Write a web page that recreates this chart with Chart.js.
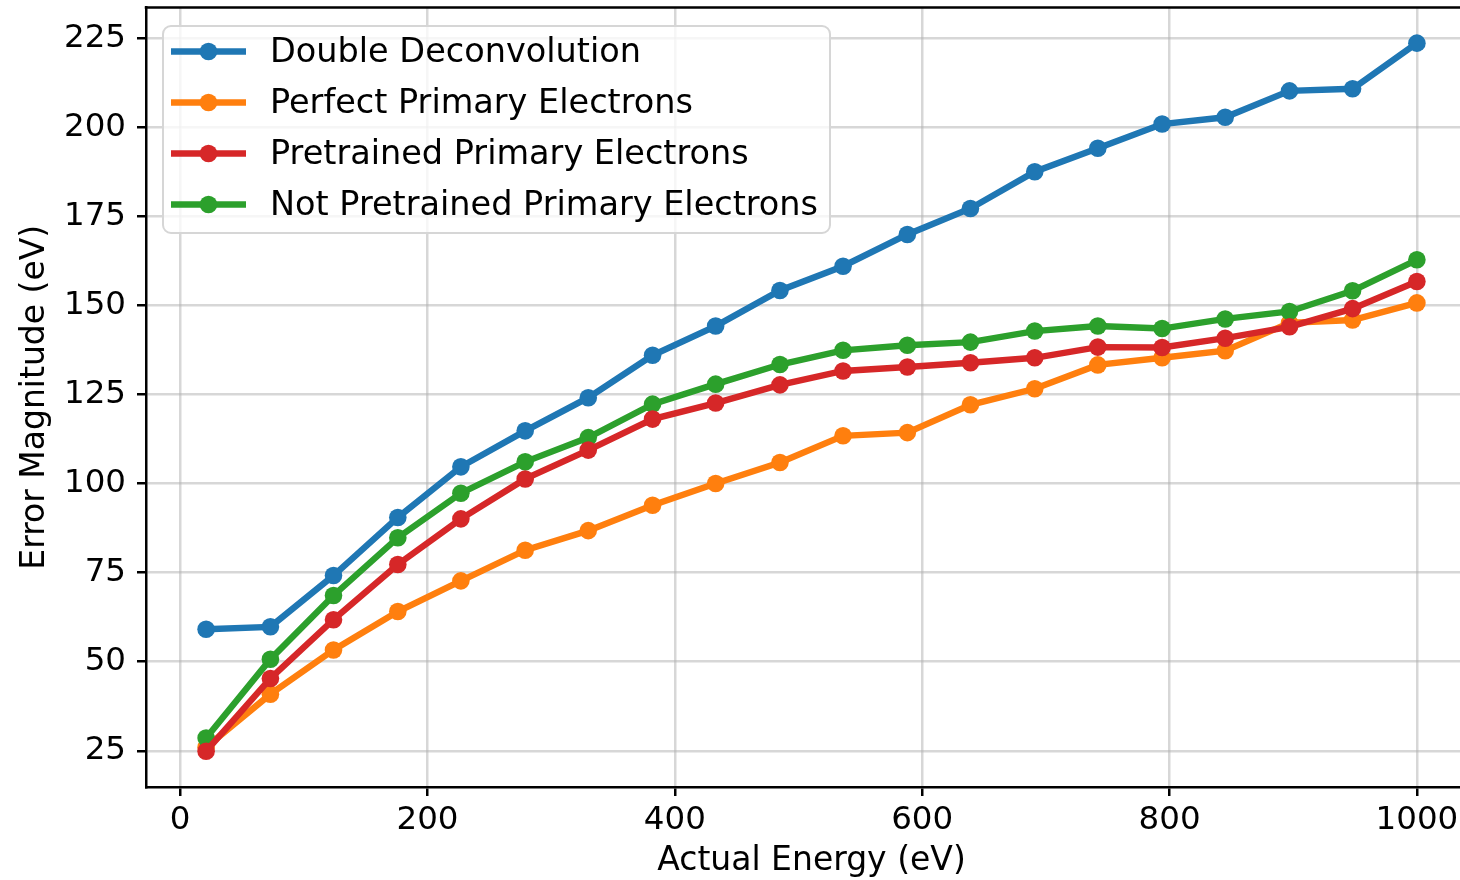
<!DOCTYPE html>
<html><head><meta charset="utf-8">
<script src="https://cdn.jsdelivr.net/npm/chart.js@4/dist/chart.umd.min.js"></script>
<style>html,body{margin:0;padding:0;background:#fff;overflow:hidden;width:1460px;height:880px}canvas{display:block}</style>
</head><body>
<canvas id="c" width="1477" height="880"></canvas>
<script>
// ---- data ----
const energies = [21, 73, 124, 176, 227, 279, 330, 382, 433, 485, 536, 588, 639, 691, 742, 794, 845, 897, 948, 1000];
const doubleDeconvolution = [59.1, 59.8, 74.2, 90.5, 104.7, 114.8, 124.1, 136.0, 144.2, 154.2, 161.0, 169.9, 177.2, 187.5, 194.1, 200.9, 202.8, 210.2, 210.8, 223.6];
const perfectPrimary = [26.0, 40.9, 53.3, 64.1, 72.7, 81.3, 86.8, 93.9, 100.0, 105.9, 113.4, 114.3, 122.1, 126.6, 133.3, 135.3, 137.3, 145.1, 145.9, 150.7];
const pretrainedPrimary = [24.9, 45.3, 61.8, 77.3, 90.1, 101.3, 109.4, 118.1, 122.6, 127.7, 131.6, 132.7, 133.9, 135.3, 138.3, 138.2, 140.8, 144.0, 149.1, 156.7];
const notPretrainedPrimary = [28.6, 50.7, 68.6, 84.8, 97.3, 106.1, 112.9, 122.3, 127.9, 133.4, 137.4, 138.8, 139.7, 142.8, 144.2, 143.5, 146.2, 148.3, 154.1, 162.8];
const seriesLabels = ['Double Deconvolution', 'Perfect Primary Electrons', 'Pretrained Primary Electrons', 'Not Pretrained Primary Electrons'];
const xTicks = [0, 200, 400, 600, 800, 1000];
const yTicks = [25, 50, 75, 100, 125, 150, 175, 200, 225];
const xTitle = 'Actual Energy (eV)';
const yTitle = 'Error Magnitude (eV)';

// ---- styles ----
const colors = ['#1f77b4', '#ff7f0e', '#d62728', '#2ca02c'];
const drawOrder = [3, 2, 0, 1]; // lower = drawn on top
const LW = 6.4, PR = 8.8;
const FONT = "'DejaVu Sans', 'Liberation Sans', sans-serif";
Chart.defaults.font.family = FONT;
Chart.defaults.color = '#000';

const allSeries = [doubleDeconvolution, perfectPrimary, pretrainedPrimary, notPretrainedPrimary];

const topSpine = {
  id: 'topSpine',
  afterDraw(chart) {
    const {ctx, chartArea: ca} = chart;
    ctx.save();
    ctx.strokeStyle = '#000';
    ctx.lineWidth = 2.5;
    ctx.beginPath();
    ctx.moveTo(ca.left - 1.25, ca.top);
    ctx.lineTo(ca.right, ca.top);
    ctx.stroke();
    ctx.restore();
  }
};

const mplLegend = {
  id: 'mplLegend',
  afterDraw(chart) {
    const {ctx, chartArea: ca} = chart;
    const x0 = ca.left + 17, y0 = ca.top + 18.5, w = 667, h = 207, r = 8;
    ctx.save();
    ctx.beginPath();
    ctx.roundRect(x0, y0, w, h, r);
    ctx.fillStyle = 'rgba(255,255,255,0.8)';
    ctx.fill();
    ctx.strokeStyle = '#d6d6d6';
    ctx.lineWidth = 2;
    ctx.stroke();
    ctx.font = '33.5px ' + FONT;
    ctx.textBaseline = 'middle';
    ctx.textAlign = 'left';
    chart.data.datasets.forEach((ds, i) => {
      const ry = y0 + 25.5 + i * 51;
      const hx0 = x0 + 8, hx1 = x0 + 83;
      ctx.strokeStyle = ds.borderColor;
      ctx.lineWidth = LW;
      ctx.lineCap = 'butt';
      ctx.beginPath();
      ctx.moveTo(hx0, ry);
      ctx.lineTo(hx1, ry);
      ctx.stroke();
      ctx.fillStyle = ds.borderColor;
      ctx.beginPath();
      ctx.arc((hx0 + hx1) / 2, ry, PR, 0, Math.PI * 2);
      ctx.fill();
      ctx.fillStyle = '#000';
      ctx.fillText(ds.label, x0 + 107, ry + 1.5);
    });
    ctx.restore();
  }
};

new Chart(document.getElementById('c'), {
  type: 'line',
  data: {
    datasets: allSeries.map((s, i) => ({
      label: seriesLabels[i],
      data: energies.map((x, j) => ({x: x, y: s[j]})),
      borderColor: colors[i],
      backgroundColor: colors[i],
      pointBackgroundColor: colors[i],
      pointBorderWidth: 0,
      borderWidth: LW,
      pointRadius: PR,
      pointHoverRadius: PR,
      tension: 0,
      fill: false,
      order: drawOrder[i]
    }))
  },
  options: {
    responsive: false,
    animation: false,
    devicePixelRatio: 1,
    events: [],
    layout: {autoPadding: false, padding: {top: 7.5, left: 0, right: 0, bottom: 0}},
    plugins: {legend: {display: false}, tooltip: {enabled: false}},
    scales: {
      x: {
        type: 'linear', min: -27.6, max: 1048.6,
        afterBuildTicks: s => { s.ticks = xTicks.map(v => ({value: v})); },
        afterFit: s => { s.height = 93; s.paddingLeft = 0; s.paddingRight = 0; s.paddingTop = 0; s.paddingBottom = 0; },
        ticks: {font: {size: 32.5}, color: '#000', padding: 5, maxRotation: 0, autoSkip: false, callback: v => String(v)},
        grid: {color: 'rgba(176,176,176,0.5)', lineWidth: 2.5, drawTicks: true, tickLength: 9, tickColor: '#000', tickWidth: 2.5},
        border: {display: true, color: '#000', width: 2.5},
        title: {display: true, text: xTitle, font: {size: 33, lineHeight: 1.1}, color: '#000', padding: {top: 0, bottom: 0}}
      },
      y: {
        type: 'linear', min: 14.85, max: 233.6,
        afterBuildTicks: s => { s.ticks = yTicks.map(v => ({value: v})); },
        afterFit: s => { s.width = 146; s.paddingLeft = 0; s.paddingRight = 0; s.paddingTop = 0; s.paddingBottom = 0; },
        ticks: {font: {size: 32.5}, color: '#000', padding: 11, autoSkip: false, callback: v => String(v)},
        grid: {color: 'rgba(176,176,176,0.5)', lineWidth: 2.5, drawTicks: true, tickLength: 9, tickColor: '#000', tickWidth: 2.5},
        border: {display: true, color: '#000', width: 2.5},
        title: {display: true, text: yTitle, font: {size: 33}, color: '#000', padding: {top: 16, bottom: 0}}
      }
    }
  },
  plugins: [topSpine, mplLegend]
});
</script>
</body></html>
